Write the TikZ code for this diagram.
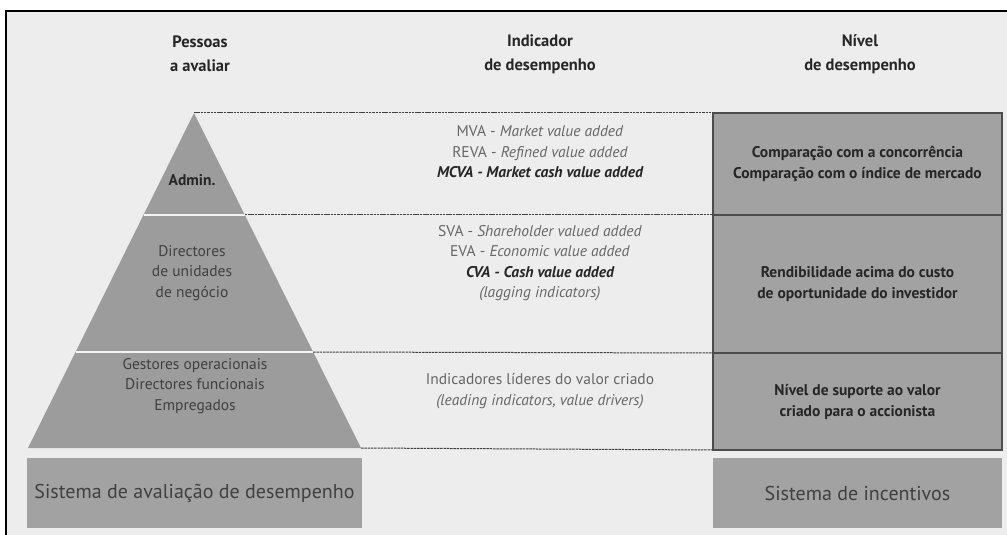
\documentclass[tikz,border=0pt]{standalone}
\usepackage{fontspec}
\setmainfont{PT Sans}
\newcommand{\keyind}[1]{{\bfseries\itshape\color{black!85}#1}}
\begin{document}
\begin{tikzpicture}[x=1bp,y=-1bp,
  pagebg/.style={fill=white},
  panel/.style={fill=panelgray},
  band/.style={fill=bandgray},
  gapline/.style={draw=panelgray!60!white,line width=1.6bp},
  guide/.style={draw=black!75,line width=1bp,dash pattern=on 2.5bp off 0.8bp},
  cell/.style={draw=black!70,line width=1.1bp,fill=cellgray,anchor=north west,
    minimum width=289bp,inner sep=0pt,outer sep=0pt,align=center,
    font=\fontsize{15.5bp}{21bp}\selectfont\bfseries,text=black!85},
  basebox/.style={fill=cellgray,anchor=north west,inner sep=0pt,outer sep=0pt,
    minimum height=70bp,font=\fontsize{20bp}{24bp}\selectfont,text=black!75},
  header/.style={align=center,font=\fontsize{16.5bp}{24bp}\selectfont\bfseries,text=black!85},
  ptext/.style={align=center,font=\fontsize{15.5bp}{20.5bp}\selectfont,text=black!75},
  mtext/.style={align=center,font=\fontsize{15.5bp}{20.5bp}\selectfont,text=black!60}]
\definecolor{panelgray}{HTML}{EDEDED}
\definecolor{bandgray}{HTML}{9C9C9C}
\definecolor{cellgray}{HTML}{A2A2A2}

% canvas and frame
\useasboundingbox (0,0) rectangle (1007,535);
\fill[pagebg] (0,0) rectangle (1007,535);
\fill[panel] (6,11) rectangle (1007,535);
\draw[line width=2.2bp,black] (6,535) -- (6,11) -- (1007,11);

% pyramid corner points
\coordinate (apex) at (194,113);
\coordinate (l1) at (143.5,215);
\coordinate (r1) at (244.8,215);
\coordinate (l2) at (75.6,352);
\coordinate (r2) at (313.1,352);
\coordinate (bl) at (28,448);
\coordinate (br) at (361,448);

% pyramid
\fill[band] (apex) -- (bl) -- (br) -- cycle;
\draw[gapline] (l1) -- (r1);
\draw[gapline] (l2) -- (r2);

% right column cells
\node[cell,minimum height=102bp] (top) at (713,113)
  {Comparação com a concorrência\\Comparação com o índice de mercado};
\node[cell,minimum height=138bp] (mid) at (713,215)
  {Rendibilidade acima do custo\\de oportunidade do investidor};
\node[cell,minimum height=97bp] (low) at (713,353)
  {Nível de suporte ao valor\\criado para o accionista};

% dashed guides from pyramid to cells
\draw[guide] (apex) -- (top.north west);
\draw[guide] (r1) -- (mid.north west);
\draw[guide] (r2) -- (low.north west);
\draw[guide] (br) -- (low.south west);

% base boxes
\node[basebox,minimum width=335bp] (eval) at (27,458) {Sistema de avaliação de desempenho};
\node[basebox,minimum width=289bp] (incent) at (713,458) {Sistema de incentivos};

% column headers
\node[header] (hpeople) at (200,54) {Pessoas\\a avaliar};
\node[header] (hind) at (540,54) {Indicador\\de desempenho};
\node[header] (hlevel) at (860,54) {Nível\\de desempenho};

% pyramid labels
\node[ptext,font=\fontsize{15.5bp}{20bp}\selectfont\bfseries,text=black!85] (admin) at (192,180) {Admin.};
\node[ptext] (bu) at (192,273) {Directores\\de unidades\\de negócio};
\node[ptext] (ops) at (195,386) {Gestores operacionais\\Directores funcionais\\Empregados};

% indicator labels
\node[mtext] (ind1) at (540,152)
  {MVA - \textit{Market value added}\\REVA - \textit{Refined value added}\\
   \keyind{MCVA - Market cash value added}};
\node[mtext] (ind2) at (540,263)
  {SVA - \textit{Shareholder valued added}\\EVA - \textit{Economic value added}\\
   \keyind{CVA - Cash value added}\\\textit{(lagging indicators)}};
\node[mtext] (ind3) at (540,391)
  {Indicadores líderes do valor criado\\\textit{(leading indicators, value drivers)}};
\end{tikzpicture}
\end{document}
